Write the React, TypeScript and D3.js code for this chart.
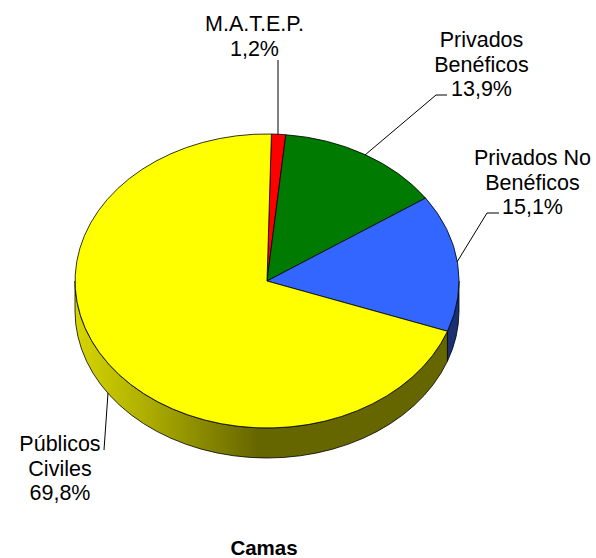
import React from "react";
import * as d3 from "d3";

const categories = ["M.A.T.E.P.", "Privados Benéficos", "Privados No Benéficos", "Públicos Civiles"];
const values = [1.2, 13.9, 15.1, 69.8];
const topColors = ["#ff0000", "#007a00", "#3366ff", "#ffff00"];
const wallColors = ["#800000", "#003d00", "#1a3070", "url(#wallYellow)"];
const labelLines = [
  ["M.A.T.E.P.", "1,2%"],
  ["Privados", "Benéficos", "13,9%"],
  ["Privados No", "Benéficos", "15,1%"],
  ["Públicos", "Civiles", "69,8%"],
];
const labelPos = [
  { x: 254.5, y: 31 },
  { x: 481.5, y: 47 },
  { x: 532.5, y: 165 },
  { x: 60, y: 451 },
];
const leaders = [
  [[278, 60], [278, 135]],
  [[447, 95], [436, 95], [365, 155]],
  [[499, 213], [487, 213], [457, 262]],
  [[104, 450], [108, 393]],
];

const W = 596, H = 558;
const cx = 267, cy = 281, rx = 192, ry = 147, depth = 30;

export default function App() {
  const start = (1.3 * Math.PI) / 180;
  const arcs = d3.pie<number>().sort(null).startAngle(start).endAngle(start + 2 * Math.PI)(values);
  const arc = d3.arc<d3.PieArcDatum<number>>().innerRadius(0).outerRadius(1);
  const line = d3.line();
  const px = (a: number) => cx + rx * Math.sin(a);
  const py = (a: number) => cy - ry * Math.cos(a);

  const wall = (a0: number, a1: number) => {
    const lo = Math.max(a0, Math.PI / 2);
    const hi = Math.min(a1, (3 * Math.PI) / 2);
    if (hi <= lo) return null;
    const bottom = `A${rx},${ry} 0 0 1 ${px(hi)},${py(hi) + depth}`;
    const top = `A${rx},${ry} 0 0 0 ${px(lo)},${py(lo)}`;
    return `M${px(lo)},${py(lo)}L${px(lo)},${py(lo) + depth}${bottom}L${px(hi)},${py(hi)}${top}Z`;
  };

  return (
    <svg width={W} height={H} style={{ position: "absolute", left: 0, top: 0 }} fontFamily="'Liberation Sans', Arial, sans-serif">
      <defs>
        <linearGradient id="wallYellow" gradientUnits="userSpaceOnUse" x1={cx - rx} x2={cx} y1={0} y2={0}>
          <stop offset="0" stopColor="#d6d600" />
          <stop offset="0.35" stopColor="#b0b000" />
          <stop offset="0.95" stopColor="#666600" />
          <stop offset="1" stopColor="#666600" />
        </linearGradient>
      </defs>
      <rect width={W} height={H} fill="#ffffff" />
      {arcs.map((d, i) => {
        const w = wall(d.startAngle, d.endAngle);
        return w ? <path key={i} d={w} fill={wallColors[i]} stroke="#000" strokeWidth={0.8} /> : null;
      })}
      <g transform={`translate(${cx},${cy}) scale(${rx},${ry})`}>
        {arcs.map((d, i) => (
          <path key={i} d={arc(d) as string} fill={topColors[i]} stroke="#000" strokeWidth={0.8} vectorEffect="non-scaling-stroke" />
        ))}
      </g>
      {leaders.map((l, i) => (
        <path key={i} d={line(l as [number, number][]) as string} fill="none" stroke="#000" strokeWidth={1} />
      ))}
      {labelLines.map((lines, i) => (
        <text key={i} x={labelPos[i].x} y={labelPos[i].y} textAnchor="middle" fontSize={21.5} fill="#000">
          {lines.map((t, j) => (
            <tspan key={j} x={labelPos[i].x} dy={j === 0 ? 0 : 24.5}>{t}</tspan>
          ))}
        </text>
      ))}
      <text x={264} y={555} textAnchor="middle" fontSize={20.5} fontWeight="bold" fill="#000">Camas</text>
    </svg>
  );
}
